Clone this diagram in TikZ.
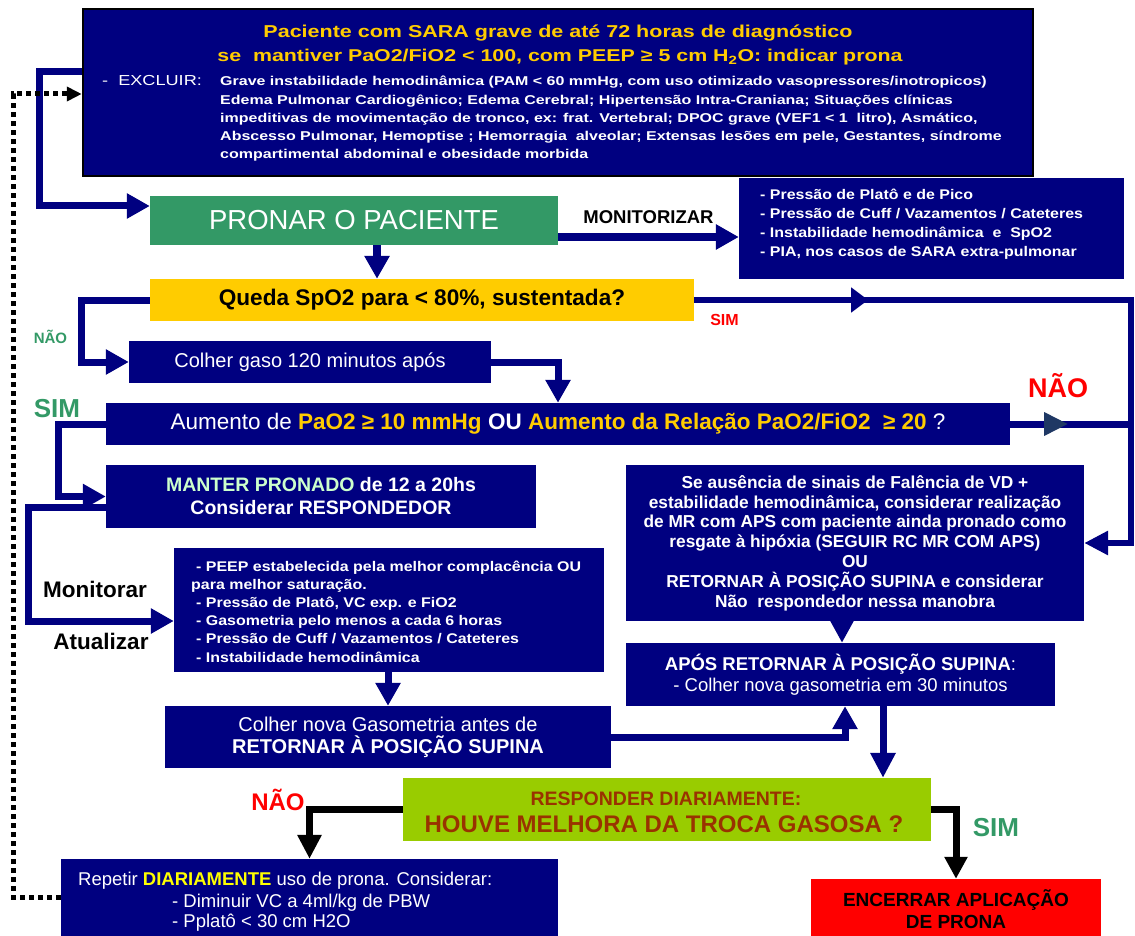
\documentclass[tikz,border=0pt]{standalone}
\usepackage{fontspec}
\setmainfont{Liberation Sans}
\newfontfamily\topfont[FakeStretch=1.25]{Liberation Sans}
\newfontfamily\listfont[FakeStretch=1.14]{Liberation Sans}
\usetikzlibrary{arrows.meta,calc,decorations.markings}
\usepackage{xcolor}
\definecolor{boxNavy}{HTML}{000080}
\definecolor{pronGreen}{HTML}{339966}
\definecolor{titleAmber}{HTML}{FFCC00}
\definecolor{limeBox}{HTML}{99CC00}
\definecolor{rustText}{HTML}{993300}
\definecolor{mintText}{HTML}{CCFFCC}
\definecolor{slateArrow}{HTML}{1F3864}
\definecolor{dayYellow}{HTML}{FFFF00}
\definecolor{alertRed}{HTML}{FF0000}
\tikzset{
navybox/.style={fill=boxNavy, text=white, inner sep=0pt, align=center},
txt/.style={inner sep=0pt, anchor=base},
navyarrow/.style={draw=boxNavy, line width=7pt, -{Triangle[length=23pt,width=24pt]}},
navyline/.style={draw=boxNavy, line width=6pt},
blackarrow/.style={draw=black, line width=7pt, -{Triangle[length=24pt,width=23pt]}},
dotline/.style={draw=black, line width=5pt, dash pattern=on 5pt off 4pt, -{Triangle[length=15pt,width=14pt]}}
}
\begin{document}
\begin{tikzpicture}[x=1pt, y=-1pt]
\fill[white] (0,0) rectangle (1135,936);
\useasboundingbox (0,0) rectangle (1135,936);

% top box: indication and exclusions
\node[navybox, draw=black, line width=2.5pt, minimum width=950pt, minimum height=167pt] (topbox) at (558,92.5) {};
\node[txt, text=titleAmber, font=\topfont\bfseries\fontsize{17.2}{20}\selectfont] (title1) at (558,38) {Paciente com SARA grave de até 72 horas de diagnóstico};
\node[txt, text=titleAmber, font=\topfont\bfseries\fontsize{17.1}{20}\selectfont] (title2) at (560,62) {se\ \ mantiver PaO2/FiO2 < 100, com PEEP ≥ 5 cm H\textsubscript{2}O: indicar prona};
\node[txt, anchor=base west, text=white, font=\topfont\fontsize{14.5}{17}\selectfont] (exclabel) at (102,86) {-\ \ EXCLUIR:};
\foreach \row [count=\i] in {{Grave instabilidade hemodinâmica (PAM < 60 mmHg, com uso otimizado vasopressores/inotropicos)},
  {Edema Pulmonar Cardiogênico; Edema Cerebral; Hipertensão Intra-Craniana; Situações clínicas},
  {impeditivas de movimentação de tronco, ex: frat. Vertebral; DPOC grave (VEF1 < 1\ \ litro), Asmático,},
  {Abscesso Pulmonar, Hemoptise ; Hemorragia\ \ alveolar; Extensas lesões em pele, Gestantes, síndrome},
  {compartimental abdominal e obesidade morbida}}
  \node[txt, anchor=base west, text=white, font=\topfont\bfseries\fontsize{12.8}{15}\selectfont] (excl\i) at (220,{86+18.1*(\i-1)}) {\row};

% main boxes
\node[fill=pronGreen, text=white, inner sep=0pt, minimum width=408pt, minimum height=49pt, font=\fontsize{27.5}{30}\selectfont] (pronar) at (354,220.5) {PRONAR O PACIENTE};
\node[navybox, minimum width=385pt, minimum height=101pt] (monitor) at (931.5,228.5) {};
\foreach \row [count=\i] in {{- Pressão de Platô e de Pico},{- Pressão de Cuff / Vazamentos / Cateteres},
  {- Instabilidade hemodinâmica\ \ e\ \ SpO2},{- PIA, nos casos de SARA extra-pulmonar}}
  \node[txt, anchor=base west, text=white, font=\listfont\bfseries\fontsize{14}{17}\selectfont] (mon\i) at (760,{200+18.67*(\i-1)}) {\row};
\node[fill=titleAmber, inner sep=0pt, minimum width=544pt, minimum height=42pt, font=\bfseries\fontsize{22.6}{26}\selectfont] (queda) at (422,300) {Queda SpO2 para < 80\%, sustentada?};
\node[navybox, minimum width=362pt, minimum height=42pt, font=\fontsize{20}{24}\selectfont] (gaso) at (310,362) {Colher gaso 120 minutos após};
\node[navybox, minimum width=904pt, minimum height=42pt, font=\fontsize{22.5}{26}\selectfont] (aumento) at (558,424)
  {Aumento de \textbf{\textcolor{titleAmber}{PaO2 ≥ 10 mmHg}} \textbf{OU} \textbf{\textcolor{titleAmber}{Aumento da Relação PaO2/FiO2\ \ ≥ 20}} ?};
\node[navybox, minimum width=430pt, minimum height=63pt, font=\bfseries\fontsize{19.5}{23}\selectfont] (manter) at (321,496.5)
  {\textcolor{mintText}{MANTER PRONADO} de 12 a 20hs\\Considerar RESPONDEDOR};
\node[navybox, minimum width=430pt, minimum height=124pt] (peep) at (389,610) {};
\foreach \lx/\row [count=\i] in {196/{- PEEP estabelecida pela melhor complacência OU},191/{para melhor saturação.},
  196/{- Pressão de Platô, VC exp. e FiO2},196/{- Gasometria pelo menos a cada 6 horas},
  196/{- Pressão de Cuff / Vazamentos / Cateteres},196/{- Instabilidade hemodinâmica}}
  \node[txt, anchor=base west, text=white, font=\listfont\bfseries\fontsize{14}{17}\selectfont] (peep\i) at (\lx,{571+18.2*(\i-1)}) {\row};
\node[navybox, minimum width=446pt, minimum height=62pt, font=\fontsize{20}{22}\selectfont] (colhernova) at (388,737)
  {Colher nova Gasometria antes de\\\textbf{RETORNAR À POSIÇÃO SUPINA}};
\node[navybox, minimum width=458pt, minimum height=156pt, font=\bfseries\fontsize{17.3}{19.8}\selectfont] (seaus) at (855,543)
  {Se ausência de sinais de Falência de VD +\\estabilidade hemodinâmica, considerar realização\\de MR com APS com paciente ainda pronado como\\resgate à hipóxia (SEGUIR RC MR COM APS)\\OU\\RETORNAR À POSIÇÃO SUPINA e considerar\\Não\ \ respondedor nessa manobra};
\node[navybox, minimum width=429pt, minimum height=63pt, font=\fontsize{18.5}{21}\selectfont] (apos) at (840.5,674.5)
  {\textbf{APÓS RETORNAR À POSIÇÃO SUPINA}:\\- Colher nova gasometria em 30 minutos};
\node[fill=limeBox, inner sep=0pt, minimum width=528pt, minimum height=63pt] (resp) at (667,809.5) {};
\node[txt, text=rustText, font=\bfseries\fontsize{19.5}{23}\selectfont] (resptop) at (666,805) {RESPONDER DIARIAMENTE:};
\node[txt, text=rustText, font=\bfseries\fontsize{24}{28}\selectfont] (respq) at (664,832) {HOUVE MELHORA DA TROCA GASOSA ?};
\node[navybox, minimum width=497pt, minimum height=81pt] (repetir) at (309.5,899.5) {};
\node[txt, anchor=base west, text=white, font=\fontsize{18.5}{21}\selectfont] (rep1) at (78,885)
  {Repetir \textbf{\textcolor{dayYellow}{DIARIAMENTE}} uso de prona. Considerar:};
\node[txt, anchor=base west, text=white, font=\fontsize{18.5}{21}\selectfont] (rep2) at (172,907) {- Diminuir VC a 4ml/kg de PBW};
\node[txt, anchor=base west, text=white, font=\fontsize{18.5}{21}\selectfont] (rep3) at (172,927) {- Pplatô < 30 cm H2O};
\node[fill=alertRed, inner sep=0pt, align=center, minimum width=290pt, minimum height=61pt, font=\bfseries\fontsize{19}{22}\selectfont] (encerrar) at (956,909.5)
  {ENCERRAR APLICAÇÃO\\DE PRONA};

% connectors
\draw[navyarrow] ([yshift=20.5pt]topbox.west) -- (39,72) -- (39,206) -- ([yshift=14.5pt]pronar.west);
\draw[dotline] ([yshift=2.5pt]repetir.west) -- (13,897) -- (13,94) -- ([yshift=-1.5pt]topbox.west);
\draw[navyarrow] ([yshift=-16.5pt]pronar.east) -- ([yshift=-8.5pt]monitor.west);
\draw[navyarrow, line width=8pt] ([xshift=23pt]pronar.south) -- ([xshift=-45pt]queda.north);
\draw[navyline, -{Triangle[length=24pt,width=23pt]}, postaction={decorate},
  decoration={markings, mark=at position 174pt with {\arrow{Triangle[length=17pt,width=24pt]}}}]
  (queda.east) -- (1131,300) |- (seaus.east);
\draw[navyarrow] (queda.west) -- (81,300) |- (gaso.west);
\draw[navyarrow] (gaso.east) -| (aumento.north);
\draw[navyline, line width=7pt, postaction={decorate},
  decoration={markings, mark=at position 58pt with {\arrow{Triangle[length=24pt,width=22pt,color=slateArrow]}}}]
  (aumento.east) -- (1131,424);
\draw[navyarrow] (aumento.west) -- (58,424) |- (manter.west);
\draw[navyarrow] ([yshift=-10.5pt]manter.west) -- (28,507) |- ([yshift=-11pt]peep.west);
\draw[navyarrow] ([xshift=-1pt]peep.south) -- (colhernova.north);
\draw[navyarrow] (colhernova.east) -| ([xshift=4.5pt]apos.south);
\draw[navyarrow, -{Triangle[length=22pt,width=22pt]}] ([xshift=-13pt]seaus.south) -- ([xshift=1.5pt]apos.north);
\draw[navyarrow, -{Triangle[length=25pt,width=24pt]}] ([xshift=42.5pt]apos.south) -- ([xshift=216pt]resp.north);
\draw[blackarrow] (resp.west) -| (repetir.north);
\draw[blackarrow, -{Triangle[length=22pt,width=22pt]}] (resp.east) -| (encerrar.north);

% labels
\node[txt, font=\bfseries\fontsize{18.5}{22}\selectfont] (monlabel) at (648.5,223) {MONITORIZAR};
\node[txt, text=alertRed, font=\bfseries\fontsize{16}{19}\selectfont] (simsmall) at (724.5,325) {SIM};
\node[txt, text=pronGreen, font=\bfseries\fontsize{15}{18}\selectfont] (naosmall) at (50.5,343) {NÃO};
\node[txt, text=alertRed, font=\bfseries\fontsize{27}{30}\selectfont] (naobig) at (1058,397) {NÃO};
\node[txt, text=pronGreen, font=\bfseries\fontsize{26}{30}\selectfont] (simbig) at (57,417) {SIM};
\node[txt, font=\bfseries\fontsize{22.5}{26}\selectfont] (monitorar) at (95,597) {Monitorar};
\node[txt, font=\bfseries\fontsize{22.5}{26}\selectfont] (atualizar) at (101,649) {Atualizar};
\node[txt, text=alertRed, font=\bfseries\fontsize{24}{28}\selectfont] (naoresp) at (278,810) {NÃO};
\node[txt, text=pronGreen, font=\bfseries\fontsize{26}{30}\selectfont] (simresp) at (996,836.7) {SIM};
\end{tikzpicture}
\end{document}
